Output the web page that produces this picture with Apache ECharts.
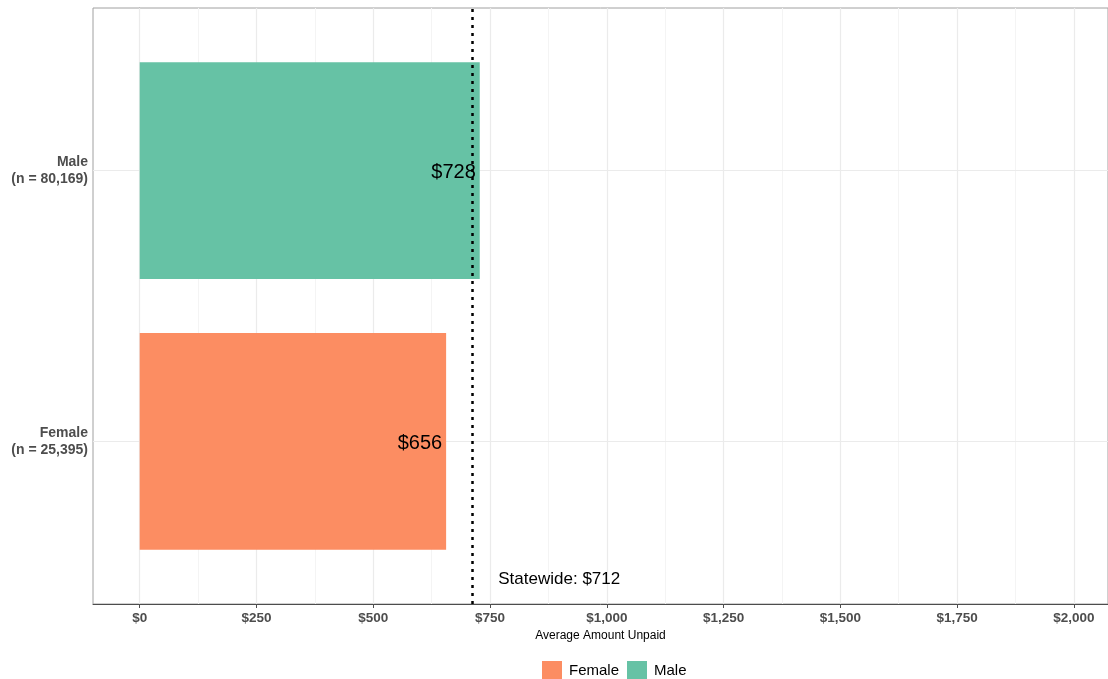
<!DOCTYPE html>
<html>
<head>
<meta charset="utf-8">
<script src="https://cdn.jsdelivr.net/npm/echarts@6/dist/echarts.min.js"></script>
<style>
  html, body { margin: 0; padding: 0; background: #fff; }
  #chart { width: 1108px; height: 679px; }
</style>
</head>
<body>
<div id="chart"></div>
<script>
// data
const categories = ['Female', 'Male'];
const counts = [25395, 80169];
const avgUnpaid = [656, 728];
const statewide = 712;
const xTicks = [0, 250, 500, 750, 1000, 1250, 1500, 1750, 2000];
const xMinor = [125, 375, 625, 875, 1125, 1375, 1625, 1875];
const colors = ['#FC8D62', '#66C2A5'];

const fmtMoney = v => '$' + v.toLocaleString('en-US');

const renderBar = (params, api) => {
    const v = api.value(0);
    const y = api.value(1);
    const start = api.coord([0, y]);
    const end = api.coord([v, y]);
    const h = api.size([0, 0.8])[1];
    return {
        type: 'rect',
        shape: { x: start[0], y: start[1] - h / 2, width: end[0] - start[0], height: h },
        style: { fill: api.visual('color') },
        textContent: {
            style: { text: fmtMoney(v), fontSize: 20, fill: '#000', fontFamily: 'Liberation Sans' }
        },
        textConfig: { position: 'insideRight', distance: 4, offset: [0, 2] }
    };
};

// one series per category so the legend gets both keys
const barSeries = categories.map((name, i) => ({
    name: name,
    type: 'custom',
    renderItem: renderBar,
    encode: { x: 0, y: 1 },
    itemStyle: { color: colors[i] },
    z: 3,
    data: [[avgUnpaid[i], i + 1]]
}));

// statewide line + its label
barSeries[1].markLine = {
    silent: true,
    symbol: 'none',
    z: 5,
    label: { show: false },
    lineStyle: { color: '#000', type: [3, 5], width: 2.5, cap: 'butt' },
    data: [{ xAxis: statewide }]
};
barSeries[1].markPoint = {
    silent: true,
    symbol: 'circle',
    symbolSize: 0,
    label: {
        show: true,
        position: 'right',
        distance: 26,
        formatter: 'Statewide: ' + fmtMoney(statewide),
        fontSize: 17,
        color: '#000',
        fontFamily: 'Liberation Sans'
    },
    data: [{ coord: [statewide, 0.49] }]
};

// panel grid lines (major + minor), drawn under the bars
const gridSeries = {
    name: 'grid',
    type: 'line',
    data: [],
    z: 1,
    markLine: {
        silent: true,
        symbol: 'none',
        z: 1,
        label: { show: false },
        animation: false,
        data: [
            ...xMinor.map(v => ({ xAxis: v, lineStyle: { color: '#f4f4f4', width: 1, type: 'solid' } })),
            ...xTicks.map(v => ({ xAxis: v, lineStyle: { color: '#ebebeb', width: 1.2, type: 'solid' } })),
            ...categories.map((c, i) => ({ yAxis: i + 1, lineStyle: { color: '#ebebeb', width: 1.2, type: 'solid' } }))
        ]
    }
};

const chart = echarts.init(document.getElementById('chart'));
chart.setOption({
    animation: false,
    textStyle: { fontFamily: 'Liberation Sans' },
    grid: {
        left: 93, right: 0, top: 8, bottom: 75,
        show: true, borderColor: '#a0a0a0', borderWidth: 1, backgroundColor: 'transparent'
    },
    legend: {
        data: categories,
        bottom: -7,
        left: 537,
        icon: 'rect',
        itemWidth: 20,
        itemHeight: 20,
        itemGap: 8,
        textStyle: { fontSize: 15, color: '#000', padding: [0, 0, 0, 2] }
    },
    xAxis: {
        type: 'value',
        min: -100,
        max: 2073,
        name: 'Average Amount Unpaid',
        nameLocation: 'middle',
        nameGap: 25,
        nameTextStyle: { fontSize: 12, color: '#000' },
        axisLine: { show: true, lineStyle: { color: '#4d4d4d', width: 1 } },
        axisTick: { show: true, length: 4, customValues: xTicks, lineStyle: { color: '#4d4d4d' } },
        axisLabel: {
            customValues: xTicks,
            formatter: v => fmtMoney(v),
            fontSize: 13.5, fontWeight: 'bold', color: '#4d4d4d', margin: 7
        },
        splitLine: { show: false }
    },
    yAxis: {
        type: 'value',
        min: 0.4,
        max: 2.6,
        axisLine: { show: true, lineStyle: { color: '#a0a0a0', width: 1 } },
        axisTick: { show: true, length: 4, customValues: [1, 2], lineStyle: { color: '#a0a0a0' } },
        axisLabel: {
            customValues: [1, 2],
            formatter: v => {
                const i = Math.round(v) - 1;
                return categories[i] + '\n(n = ' + counts[i].toLocaleString('en-US') + ')';
            },
            fontSize: 14, fontWeight: 'bold', color: '#4d4d4d', lineHeight: 17, align: 'right', margin: 5,
            padding: [2, 0, 0, 0]
        },
        splitLine: { show: false }
    },
    series: [gridSeries, ...barSeries]
});
</script>
</body>
</html>
